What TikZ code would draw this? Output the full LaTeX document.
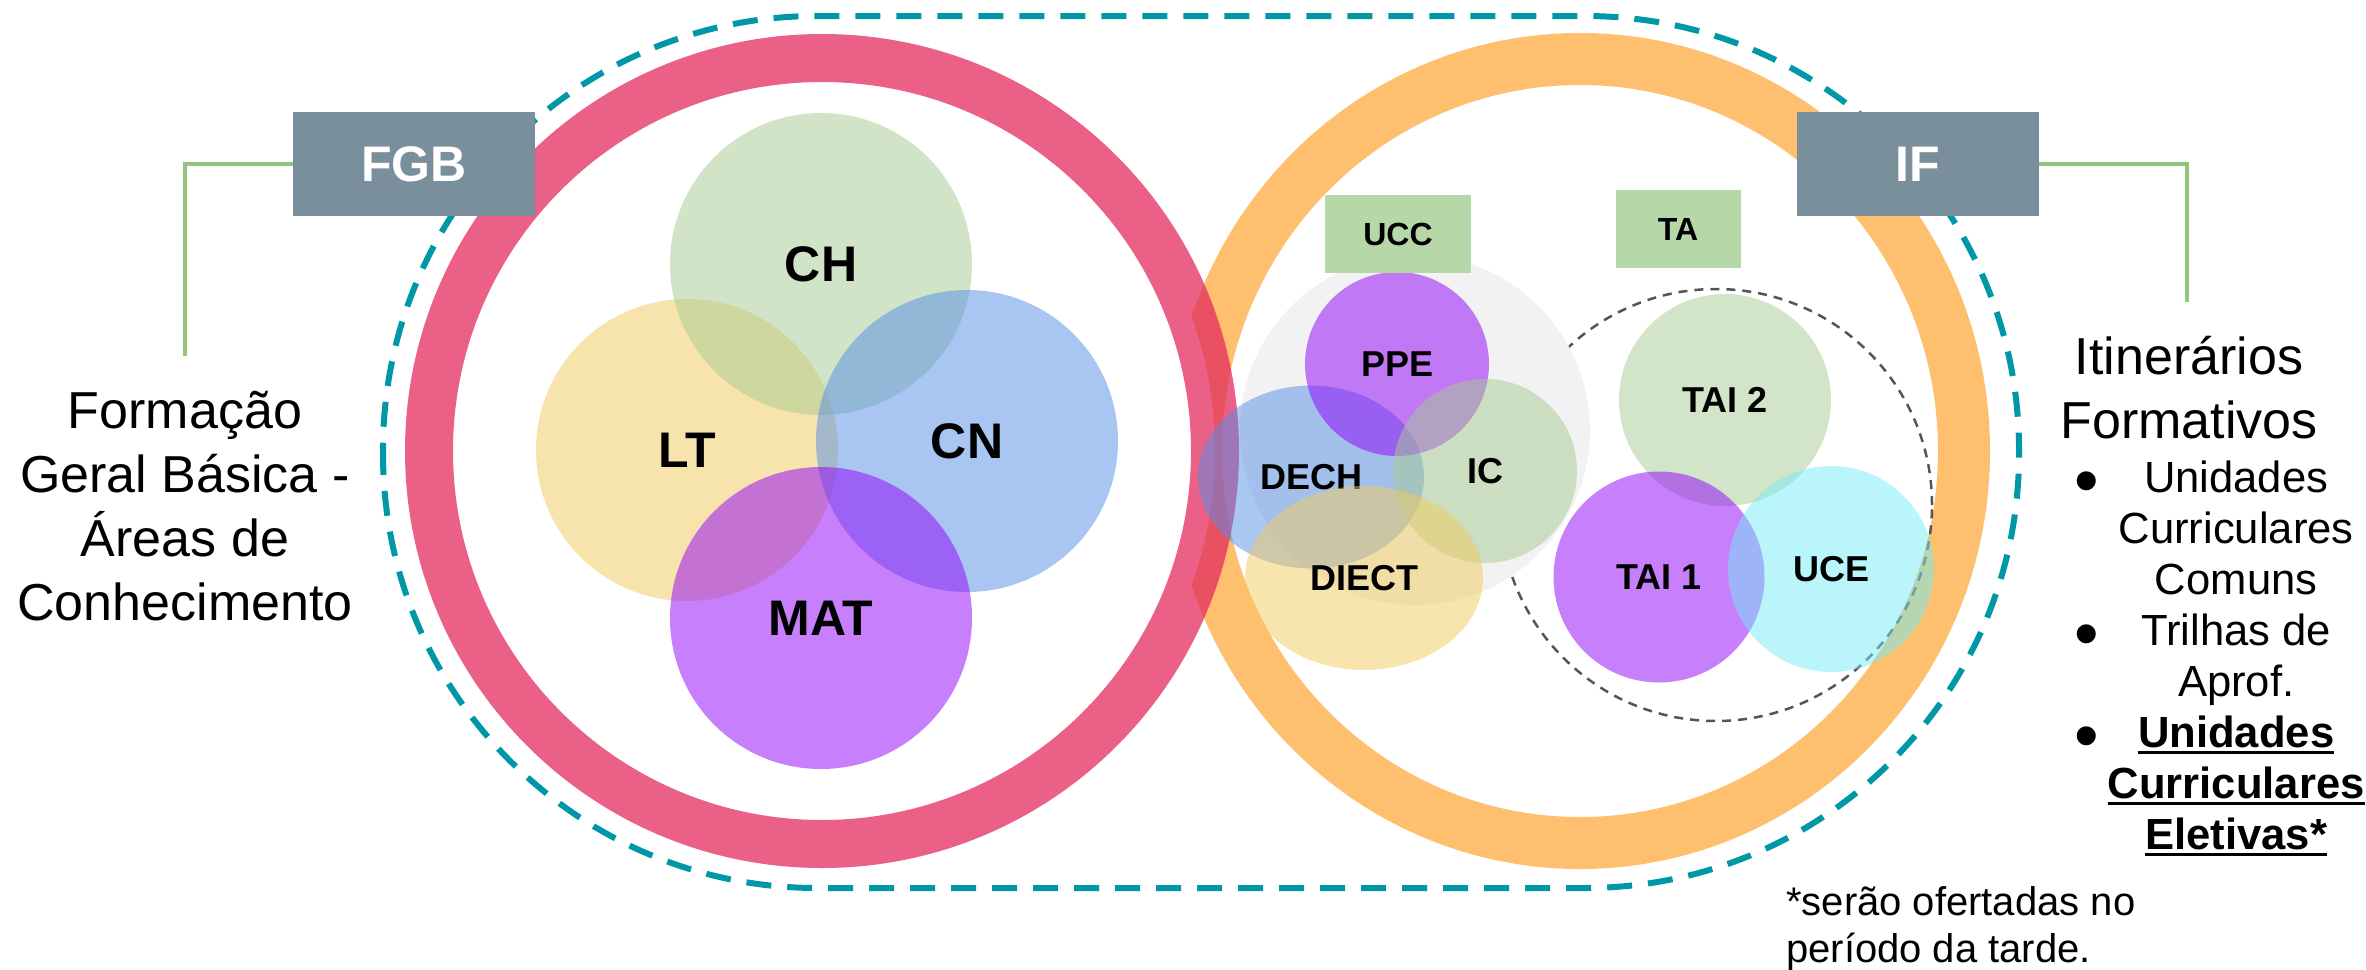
\documentclass[tikz,border=0pt]{standalone}
\usepackage{fontspec}
\setmainfont{Liberation Sans}
\usetikzlibrary{shapes.geometric}
\definecolor{myPink}{RGB}{227,43,94}
\definecolor{myOrange}{RGB}{254,192,110}
\definecolor{myTeal}{RGB}{0,151,167}
\definecolor{mySlate}{RGB}{121,143,155}
\definecolor{myLineGreen}{RGB}{147,196,125}
\definecolor{myBoxGreen}{RGB}{182,215,168}
\definecolor{myPaleGray}{RGB}{242,242,242}
\definecolor{myDashGray}{RGB}{85,85,85}
\definecolor{myGreen}{RGB}{165,203,145}
\definecolor{myYellow}{RGB}{241,203,93}
\definecolor{myBlue}{RGB}{85,141,231}
\definecolor{myPurple}{RGB}{145,0,249}
\definecolor{myCyan}{RGB}{115,235,245}
\newcommand{\listbullet}{{\fontsize{70}{51}\selectfont\raisebox{-12pt}{\textbullet}}}
\newsavebox{\ulbox}
\newcommand{\ulword}[1]{\sbox{\ulbox}{#1}\rlap{\rule[-7pt]{\wd\ulbox}{3.5pt}}\usebox{\ulbox}}

\begin{document}
\begin{tikzpicture}[%
    x=1pt, y=-1pt,
    area/.style={circle, inner sep=0pt, minimum size=302pt,
        fill opacity=0.5, text opacity=1,
        font=\fontsize{50}{60}\selectfont\bfseries},
    unit/.style={circle, inner sep=0pt, fill opacity=0.5, text opacity=1,
        font=\fontsize{36}{43}\selectfont\bfseries},
    tagbox/.style={fill=mySlate, text=white, minimum width=242pt,
        minimum height=104pt, font=\fontsize{50}{60}\selectfont\bfseries},
    groupbox/.style={fill=myBoxGreen, minimum height=78pt,
        font=\fontsize{32}{38}\selectfont\bfseries},
    link/.style={myLineGreen, line width=4.5pt},
    bigtext/.style={align=center, inner sep=0pt,
        font=\fontsize{52}{64}\selectfont},
]
% page size
\useasboundingbox (0,0) rectangle (2366,969);

% dashed outline round both rings
\draw[myTeal, line width=6pt, dash pattern=on 25pt off 16pt,
    rounded corners=434pt] (383,16) rectangle (2019,888);

% draw the two rings
\draw[myOrange, line width=52pt] (1580,451) ellipse [x radius=384pt, y radius=392pt];
\draw[draw=myPink, draw opacity=0.75, fill=white, line width=48pt]
    (822,451) circle [radius=393pt];

% areas of the FGB
\node[area, fill=myYellow] (lt) at (687,450) {LT};
\node[area, fill=myGreen] (ch) at (821,264) {CH};
\node[area, fill=myBlue] (cn) at (967,441) {CN};
\node[area, fill=myPurple] (mat) at (821,618) {MAT};

% group of the TA
\draw[myDashGray, line width=2.5pt, dash pattern=on 9pt off 7pt]
    (1716,505) circle [radius=216pt];

% group of the UCC
\fill[myPaleGray] (1415,430) circle [radius=175pt];
\node[unit, ellipse, minimum width=226pt, minimum height=183pt, fill=myBlue] (dech) at (1311,477) {DECH};
\node[unit, minimum size=184pt, fill=myPurple] (ppe) at (1397,364) {PPE};
\node[unit, minimum size=184pt, fill=myGreen] (ic) at (1485,471) {IC};
\node[unit, ellipse, minimum width=238pt, minimum height=184pt, fill=myYellow] (diect) at (1364,578) {DIECT};

% units of the TA
\node[unit, minimum size=212pt, fill=myGreen] (tai2) at (1725,400) {TAI 2};
\node[unit, minimum size=211pt, fill=myPurple] (tai1) at (1659,577) {TAI 1};
\node[unit, minimum size=206pt, fill=myCyan] (uce) at (1831,569) {UCE};

% small group labels
\node[groupbox, minimum width=146pt] (ucc) at (1398,234) {UCC};
\node[groupbox, minimum width=125pt] (ta) at (1678,229) {TA};

% big tags and their links
\node[tagbox] (fgbTag) at (414,164) {FGB};
\node[tagbox] (ifTag) at (1918,164) {IF};
\coordinate (fgbFoot) at (185,356);
\coordinate (ifFoot) at (2187,302);
\draw[link] (fgbTag.west) -| (fgbFoot);
\draw[link] (ifTag.east) -| (ifFoot);

% side texts (base = last line)
\node[bigtext, anchor=base] (fgbText) at (185,620)
    {Formação\\Geral Básica -\\Áreas de\\Conhecimento};
\node[bigtext, anchor=base] (ifText) at (2189,438) {Itinerários\\Formativos};
\node[anchor=base west, inner sep=0pt, font=\fontsize{43.6}{51}\selectfont]
    (ifList) at (2074,492) {%
    \begin{tabular}[t]{@{}c@{\hspace{9pt}}c@{}}
    \listbullet & Unidades\\
     & Curriculares\\
     & Comuns\\
    \listbullet & Trilhas de\\
     & Aprof.\\
    \listbullet & \ulword{\textbf{Unidades}}\\
     & \ulword{\textbf{Curriculares}}\\
     & \ulword{\textbf{Eletivas*}}
    \end{tabular}};
\node[anchor=base west, align=left, inner sep=0pt, font=\fontsize{40}{47}\selectfont]
    (note) at (1786,962) {*serão ofertadas no\\período da tarde.};
\end{tikzpicture}
\end{document}
